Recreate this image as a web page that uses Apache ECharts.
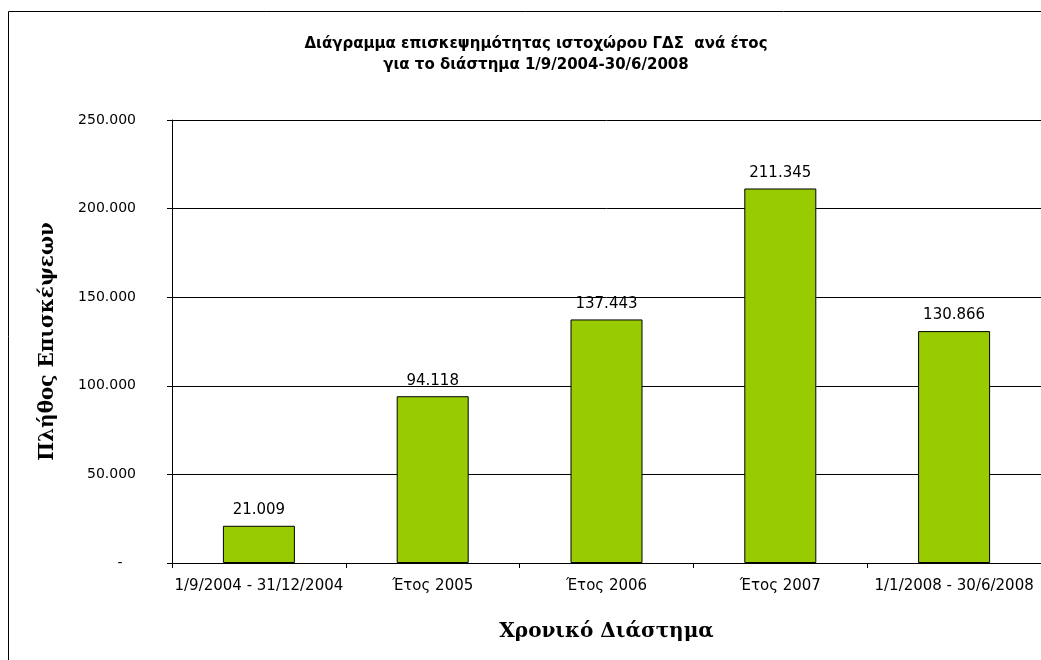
<!DOCTYPE html>
<html>
<head>
<meta charset="utf-8">
<script src="https://cdn.jsdelivr.net/npm/echarts@6/dist/echarts.min.js"></script>
<style>
  html, body { margin: 0; padding: 0; background: #fff; }
  #chart { width: 1041px; height: 660px; }
</style>
</head>
<body>
<div id="chart"></div>
<script>
// periods on the x axis
var categories = ['1/9/2004 - 31/12/2004', 'Έτος 2005', 'Έτος 2006', 'Έτος 2007', '1/1/2008 - 30/6/2008'];
// visits per period
var visits = [21009, 94118, 137443, 211345, 130866];

function fmt(v) {
    if (v === 0) return '-   ';
    return String(v).replace(/\B(?=(\d{3})+(?!\d))/g, '.');
}

var chart = echarts.init(document.getElementById('chart'));
var option = {
    animation: false,
    backgroundColor: '#fff',
    graphic: [{
        type: 'rect',
        shape: { x: 8.5, y: 11.5, width: 1100, height: 700 },
        style: { fill: 'none', stroke: '#000', lineWidth: 1 }
    }],
    title: {
        text: 'Διάγραμμα επισκεψημότητας ιστοχώρου ΓΔΣ  ανά έτος\nγια το διάστημα 1/9/2004-30/6/2008',
        left: 531,
        top: 29,
        textAlign: 'center',
        textStyle: {
            fontFamily: 'DejaVu Sans',
            fontWeight: 'bold',
            fontSize: 15,
            lineHeight: 21,
            color: '#000'
        }
    },
    grid: { left: 172, top: 120, width: 870, height: 443 },
    xAxis: {
        type: 'category',
        data: categories,
        name: 'Χρονικό Διάστημα',
        nameLocation: 'middle',
        nameGap: 59,
        nameTextStyle: {
            fontFamily: 'DejaVu Serif',
            fontWeight: 'bold',
            fontSize: 20,
            color: '#000'
        },
        axisLine: { lineStyle: { color: '#000', width: 1 } },
        axisTick: { show: true, alignWithLabel: false, length: 5, lineStyle: { color: '#000' } },
        axisLabel: {
            fontFamily: 'DejaVu Sans',
            fontSize: 15,
            color: '#000',
            margin: 16,
            interval: 0
        }
    },
    yAxis: {
        type: 'value',
        min: 0,
        max: 250000,
        interval: 50000,
        name: 'Πλήθος Επισκέψεων',
        nameLocation: 'middle',
        nameGap: 114,
        nameRotate: 90,
        nameTextStyle: {
            fontFamily: 'DejaVu Serif',
            fontWeight: 'bold',
            fontSize: 20,
            color: '#000'
        },
        axisLine: { show: true, lineStyle: { color: '#000', width: 1 } },
        axisTick: { show: true, length: 5, lineStyle: { color: '#000' } },
        splitLine: { show: true, lineStyle: { color: '#000', width: 1 } },
        axisLabel: {
            fontFamily: 'DejaVu Sans',
            fontSize: 14,
            color: '#000',
            margin: 36,
            formatter: fmt
        }
    },
    series: [{
        type: 'bar',
        data: visits,
        barWidth: 72,
        itemStyle: { color: '#99CC00', borderColor: '#000', borderWidth: 1 },
        label: {
            show: true,
            position: 'top',
            distance: 8,
            fontFamily: 'DejaVu Sans',
            fontSize: 15,
            color: '#000',
            formatter: function (p) { return fmt(p.value); }
        }
    }]
};
chart.setOption(option);
</script>
</body>
</html>
